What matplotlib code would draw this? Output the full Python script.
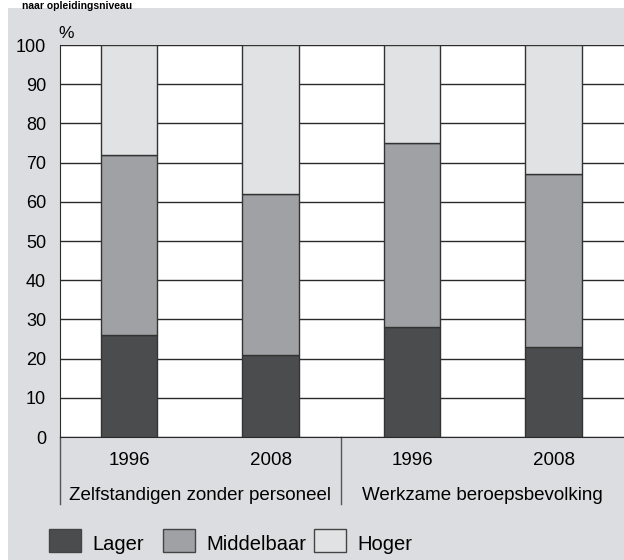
import matplotlib.pyplot as plt
from matplotlib.patches import Rectangle

plt.rcParams['font.family'] = ['Liberation Sans', 'DejaVu Sans']

# Aandeel naar opleidingsniveau (%)
jaren = ['1996', '2008', '1996', '2008']
groepen = ['Zelfstandigen zonder personeel', 'Werkzame beroepsbevolking']
lager = [26, 21, 28, 23]
middelbaar = [46, 41, 47, 44]
hoger = [28, 38, 25, 33]
y_ticks = list(range(0, 101, 10))

kleur_lager = '#4b4c4e'
kleur_midden = '#a0a1a4'
kleur_hoger = '#e1e2e4'
achtergrond = '#dcdde0'

fig = plt.figure(figsize=(6.24, 5.6), dpi=100)
fig.patch.set_facecolor('white')

# grijs paneel achter de grafiek
fig.add_artist(Rectangle((8 / 624, 0), 1, 1 - 8 / 560, transform=fig.transFigure,
                         facecolor=achtergrond, edgecolor='none', zorder=0))

# titel bovenaan (in het origineel afgesneden)
fig.text(22 / 624, 1 - 1 / 560, 'naar opleidingsniveau', fontsize=7.5,
         fontweight='bold', ha='left', va='top', zorder=2)

ax = fig.add_axes([60 / 624, 1 - 437 / 560, 1 - 60 / 624, (437 - 45) / 560])
ax.set_facecolor('white')

x = list(range(len(jaren)))
onder2 = [a + b for a, b in zip(lager, middelbaar)]
ax.bar(x, lager, width=0.4, color=kleur_lager, edgecolor='#333333', linewidth=1, zorder=3)
ax.bar(x, middelbaar, width=0.4, bottom=lager, color=kleur_midden, edgecolor='#333333',
       linewidth=1, zorder=3)
ax.bar(x, hoger, width=0.4, bottom=onder2, color=kleur_hoger, edgecolor='#333333',
       linewidth=1, zorder=3)

ax.set_xlim(-0.488, 3.498)
ax.set_ylim(0, 100)
ax.set_yticks(y_ticks)
ax.set_xticks([])
ax.tick_params(axis='y', length=0, labelsize=13, pad=10)
for t in y_ticks:
    ax.axhline(t, color='#2a2a2a', linewidth=1.0, zorder=1)

for s in ['top', 'right']:
    ax.spines[s].set_visible(False)
ax.spines['left'].set_color('#2a2a2a')
ax.spines['bottom'].set_color('#2a2a2a')

# % label
fig.text(66 / 624, 1 - 33 / 560, '%', fontsize=12.5, ha='center', va='center')

# jaren en groepen onder de as
for xi, j in zip(x, jaren):
    ax.text(xi, -6, j, fontsize=13.5, ha='center', va='center', clip_on=False)
for gi, g in enumerate(groepen):
    ax.text(0.5 + 2 * gi, -14.8, g, fontsize=13.5, ha='center', va='center', clip_on=False)
for xs in [-0.488, 1.5]:
    ax.plot([xs, xs], [0, -17], color='#555555', linewidth=1, clip_on=False)

# legenda
namen = ['Lager', 'Middelbaar', 'Hoger']
kleuren = [kleur_lager, kleur_midden, kleur_hoger]
lx = [49, 163, 314]
for px, naam, k in zip(lx, namen, kleuren):
    fig.add_artist(Rectangle((px / 624, 1 - 552 / 560), 32 / 624, 23 / 560,
                             transform=fig.transFigure, facecolor=k,
                             edgecolor='#444444', linewidth=1))
    fig.text((px + 43) / 624, 1 - 545 / 560, naam, fontsize=14.5, ha='left', va='center')

fig.savefig('out.png', dpi=100, facecolor=fig.get_facecolor())
